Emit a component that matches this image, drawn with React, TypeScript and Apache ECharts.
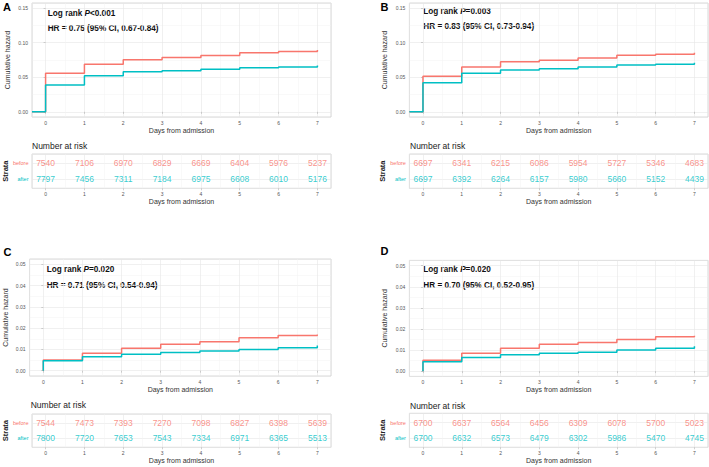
import React, { useEffect, useRef } from "react";
import * as echarts from "echarts";

const days = [0, 1, 2, 3, 4, 5, 6, 7];
const RED = "#F8766D";
const TEAL = "#00BFC4";

// Cumulative hazard (value held from each day until the next)
const hazA_before = [0.056, 0.0688, 0.0754, 0.0787, 0.0816, 0.0854, 0.0874, 0.0893];
const hazA_after = [0.0389, 0.0522, 0.0579, 0.0593, 0.0617, 0.0637, 0.065, 0.0672];
const hazB_before = [0.0514, 0.065, 0.0724, 0.0748, 0.078, 0.082, 0.0833, 0.0855];
const hazB_after = [0.042, 0.0557, 0.0605, 0.0624, 0.0648, 0.0676, 0.069, 0.0712];
const hazC_before = [0.005, 0.0082, 0.0105, 0.0124, 0.0136, 0.0155, 0.0165, 0.017];
const hazC_after = [0.0047, 0.0066, 0.0077, 0.0085, 0.0092, 0.01, 0.0108, 0.0118];
const hazD_before = [0.0051, 0.0085, 0.0109, 0.0127, 0.0136, 0.015, 0.0163, 0.0168];
const hazD_after = [0.0044, 0.0065, 0.0078, 0.0085, 0.009, 0.01, 0.0108, 0.0118];

// Number at risk
const riskA_before = [7540, 7106, 6970, 6829, 6669, 6404, 5976, 5237];
const riskA_after = [7797, 7456, 7311, 7184, 6975, 6608, 6010, 5176];
const riskB_before = [6697, 6341, 6215, 6086, 5954, 5727, 5346, 4683];
const riskB_after = [6697, 6392, 6264, 6157, 5980, 5660, 5152, 4439];
const riskC_before = [7544, 7473, 7393, 7270, 7098, 6827, 6398, 5639];
const riskC_after = [7800, 7720, 7653, 7543, 7334, 6971, 6365, 5513];
const riskD_before = [6700, 6637, 6564, 6456, 6309, 6078, 5700, 5023];
const riskD_after = [6700, 6632, 6573, 6479, 6302, 5986, 5470, 4745];

const panelLetters = ["A", "B", "C", "D"];
const logRankP = ["<0.001", "=0.003", "=0.020", "=0.020"];
const hrTexts = [
  "HR = 0.75 (95% CI, 0.67-0.84)",
  "HR = 0.83 (95% CI, 0.73-0.94)",
  "HR = 0.71 (95% CI, 0.54-0.94)",
  "HR = 0.70 (95% CI, 0.52-0.95)",
];
const yLimits = [0.15, 0.15, 0.05, 0.05];
const yTickSteps = [0.05, 0.05, 0.01, 0.01];
const startsBeforeZero = [true, true, false, false];

const hazBefore = [hazA_before, hazB_before, hazC_before, hazD_before];
const hazAfter = [hazA_after, hazB_after, hazC_after, hazD_after];
const riskBefore = [riskA_before, riskB_before, riskC_before, riskD_before];
const riskAfter = [riskA_after, riskB_after, riskC_after, riskD_after];

const LAYOUT = [
  {
    plot: { left: 32, top: 3, width: 299, height: 114 },
    table: { left: 32, top: 154, width: 299, height: 34.3 },
    letter: [3, 7.5], ann: [47.7, 13.3, 28.7], nar: [32, 146],
  },
  {
    plot: { left: 409.4, top: 3, width: 298.6, height: 114 },
    table: { left: 409.4, top: 154, width: 298.6, height: 34.3 },
    letter: [380.5, 7.5], ann: [423.3, 11, 26], nar: [410, 146],
  },
  {
    plot: { left: 29.6, top: 259, width: 301.4, height: 117 },
    table: { left: 29.6, top: 414, width: 301.4, height: 33.3 },
    letter: [3.5, 252.3], ann: [46.7, 269, 285.7], nar: [30.7, 405],
  },
  {
    plot: { left: 409.4, top: 260.4, width: 298.6, height: 116 },
    table: { left: 409.4, top: 413.3, width: 298.6, height: 34 },
    letter: [380.5, 251.7], ann: [423.3, 269, 285.7], nar: [410, 406],
  },
];

const FONT = "Liberation Sans, Arial, sans-serif";
const X_MIN = -0.35;
const X_MAX = 7.35;

function buildOption() {
  const grid: any[] = [];
  const xAxis: any[] = [];
  const yAxis: any[] = [];
  const series: any[] = [];
  const graphic: any[] = [];

  const xAxisBase = (gridIndex: number) => ({
    gridIndex,
    type: "value",
    min: X_MIN,
    max: X_MAX,
    minInterval: 1,
    maxInterval: 1,
    axisLine: { show: false },
    axisTick: { show: true, length: 2, lineStyle: { color: "#b0b0b0", width: 0.6 } },
    axisLabel: {
      fontSize: 5,
      color: "#555",
      fontFamily: FONT,
      margin: 3,
      showMinLabel: false,
      showMaxLabel: false,
      formatter: (v: number) => (Math.abs(v - Math.round(v)) < 1e-6 ? String(Math.round(v)) : ""),
    },
    splitLine: { show: true, lineStyle: { color: "#e6e6e6", width: 0.6 } },
    minorTick: { show: false, splitNumber: 2 },
    minorSplitLine: { show: true, lineStyle: { color: "#f2f2f2", width: 0.5 } },
    name: "Days from admission",
    nameLocation: "middle",
    nameGap: 10,
    nameTextStyle: { fontSize: 7, color: "#333", fontFamily: FONT },
  });

  for (let p = 0; p < 4; p++) {
    const L = LAYOUT[p];
    const lim = yLimits[p];
    const step = yTickSteps[p];
    const gPlot = grid.length;
    grid.push({ ...L.plot, show: true, borderColor: "#cfcfcf", borderWidth: 0.8, backgroundColor: "#fff" });
    xAxis.push(xAxisBase(gPlot));
    yAxis.push({
      gridIndex: gPlot,
      type: "value",
      min: -0.05 * lim,
      max: 1.05 * lim,
      minInterval: step,
      maxInterval: step,
      axisLine: { show: false },
      axisTick: { show: true, length: 2, lineStyle: { color: "#b0b0b0", width: 0.6 } },
      axisLabel: {
        fontSize: 5,
        color: "#555",
        fontFamily: FONT,
        margin: 4,
        showMinLabel: false,
        showMaxLabel: false,
        formatter: (v: number) => (v < -1e-9 || v > lim + 1e-9 ? "" : Math.abs(v).toFixed(2)),
      },
      splitLine: { show: true, lineStyle: { color: "#e6e6e6", width: 0.6 } },
      minorTick: { show: false, splitNumber: 2 },
      minorSplitLine: { show: true, lineStyle: { color: "#f2f2f2", width: 0.5 } },
      name: "Cumulative hazard",
      nameLocation: "middle",
      nameGap: 21,
      nameTextStyle: { fontSize: 7, color: "#333", fontFamily: FONT },
    });

    const startX = startsBeforeZero[p] ? X_MIN : 0;
    const mk = (h: number[]) => [[startX, 0], ...days.map((d, i) => [d, h[i]])];
    series.push({
      type: "line",
      xAxisIndex: gPlot,
      yAxisIndex: gPlot,
      step: "end",
      symbol: "none",
      silent: true,
      lineStyle: { color: RED, width: 1.5 },
      data: mk(hazBefore[p]),
    });
    series.push({
      type: "line",
      xAxisIndex: gPlot,
      yAxisIndex: gPlot,
      step: "end",
      symbol: "none",
      silent: true,
      lineStyle: { color: TEAL, width: 1.5 },
      data: mk(hazAfter[p]),
    });

    // Risk table
    const gTab = grid.length;
    grid.push({ ...L.table, show: true, borderColor: "#cfcfcf", borderWidth: 0.8, backgroundColor: "#fff" });
    xAxis.push(xAxisBase(gTab));
    yAxis.push({
      gridIndex: gTab,
      type: "value",
      min: 0.4,
      max: 2.6,
      minInterval: 1,
      maxInterval: 1,
      axisLine: { show: false },
      axisTick: { show: true, length: 2, lineStyle: { color: "#b0b0b0", width: 0.6 } },
      axisLabel: {
        margin: 3.5,
        showMinLabel: false,
        showMaxLabel: false,
        formatter: (v: number) =>
          Math.abs(v - 2) < 1e-6 ? "{b|" + "before" + "}" : Math.abs(v - 1) < 1e-6 ? "{a|" + "after" + "}" : "",
        rich: {
          b: { color: RED, fontSize: 5.5, fontFamily: FONT },
          a: { color: TEAL, fontSize: 5.5, fontFamily: FONT },
        },
      },
      splitLine: { show: true, lineStyle: { color: "#e6e6e6", width: 0.6 } },
      name: "Strata",
      nameLocation: "middle",
      nameGap: 21,
      nameTextStyle: { fontSize: 7.5, color: "#222", fontFamily: FONT, fontWeight: "bold" },
    });
    const rows: [number[], number, string][] = [
      [riskBefore[p], 2, RED],
      [riskAfter[p], 1, TEAL],
    ];
    for (const [vals, yv, col] of rows) {
      series.push({
        type: "scatter",
        xAxisIndex: gTab,
        yAxisIndex: gTab,
        symbol: "circle",
        symbolSize: 1,
        silent: true,
        itemStyle: { color: "rgba(0,0,0,0)" },
        label: {
          show: true,
          position: "inside",
          color: col,
          fontSize: 8.5,
          fontFamily: FONT,
          formatter: (pr: any) => String(pr.value[2]),
        },
        data: days.map((d, i) => [d, yv, vals[i]]),
      });
    }

    // Texts
    graphic.push({
      type: "text",
      left: L.letter[0],
      top: L.letter[1] - 6,
      style: { text: panelLetters[p], fontSize: 11, fontWeight: "bold", fill: "#000", fontFamily: FONT },
    });
    graphic.push({
      type: "text",
      x: L.ann[0],
      y: L.ann[1],
      style: {
        text: "{n|Log rank }{i|P}{n|" + logRankP[p] + "}",
        verticalAlign: "middle",
        rich: {
          n: { fontSize: 8.2, fontWeight: "bold", fill: "#111", fontFamily: FONT },
          i: { fontSize: 8.2, fontWeight: "bold", fontStyle: "italic", fill: "#111", fontFamily: FONT },
        },
      },
    });
    graphic.push({
      type: "text",
      x: L.ann[0],
      y: L.ann[2],
      style: {
        text: hrTexts[p],
        verticalAlign: "middle",
        fontSize: 8.2,
        fontWeight: "bold",
        fill: "#111",
        fontFamily: FONT,
      },
    });
    graphic.push({
      type: "text",
      x: L.nar[0],
      y: L.nar[1],
      style: {
        text: "Number at risk",
        verticalAlign: "middle",
        fontSize: 8.5,
        fill: "#222",
        fontFamily: FONT,
      },
    });
  }

  return {
    animation: false,
    backgroundColor: "#fff",
    grid,
    xAxis,
    yAxis,
    series,
    graphic,
  };
}

export default function App() {
  const ref = useRef<HTMLDivElement>(null);
  useEffect(() => {
    if (!ref.current) return;
    const chart = echarts.init(ref.current, undefined, { renderer: "svg" });
    chart.setOption(buildOption() as any);
    return () => chart.dispose();
  }, []);
  return (
    <div
      ref={ref}
      style={{ position: "absolute", left: 0, top: 0, width: 709, height: 467, background: "#fff" }}
    />
  );
}
